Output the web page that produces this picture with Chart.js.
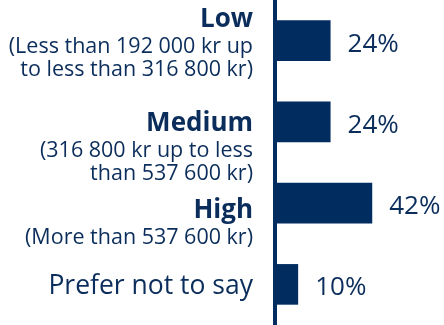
<!DOCTYPE html>
<html lang="en">
<head>
    <meta charset="UTF-8">
    <title>Income groups</title>
    <script src="https://cdn.jsdelivr.net/npm/chart.js"></script>
    <style>
        body { margin: 0; background: #fff; }
        .box { width: 444px; height: 325px; position: relative; }
    </style>
</head>
<body>
    <div class="box">
        <canvas id="grafico"></canvas>
    </div>
<script>
    // dados
    const categorias = ['Low', 'Medium', 'High', 'Prefer not to say'];
    const subtitulos = [
        ['(Less than 192 000 kr up', 'to less than 316 800 kr)'],
        ['(316 800 kr up to less', 'than 537 600 kr)'],
        ['(More than 537 600 kr)'],
        []
    ];
    const percentuais = [24, 24, 42, 10];

    const azul = '#002c5f';
    const corTexto = '#0b2d5b';
    const fonte = '"Open Sans", "Noto Sans", sans-serif';

    // deslocamento da primeira linha do rótulo em relação ao centro da barra
    const deslocTitulo = [-13.5, 9.5, 15, 10];

    const rotulos = {
        id: 'rotulos',
        afterDatasetsDraw(chart) {
            const ctx = chart.ctx;
            const escalaY = chart.scales.y;
            const meta = chart.getDatasetMeta(0);
            ctx.save();
            ctx.fillStyle = corTexto;
            ctx.textBaseline = 'alphabetic';

            for (let i = 0; i < categorias.length; i++) {
                const centro = escalaY.getPixelForValue(i);
                const subs = subtitulos[i];
                let y = centro + deslocTitulo[i];

                // nome da categoria
                ctx.textAlign = 'right';
                ctx.font = (subs.length ? 'bold 26px ' : '26.5px ') + fonte;
                ctx.fillText(categorias[i], 253, y);

                ctx.font = '21.5px ' + fonte;
                for (let j = 0; j < subs.length; j++) {
                    y += (j == 0) ? 26 : 23;
                    ctx.fillText(subs[j], 253, y);
                }

                // valor ao lado da barra
                const barra = meta.data[i];
                ctx.textAlign = 'left';
                ctx.font = '26px ' + fonte;
                ctx.fillText(percentuais[i] + '%', barra.x + 17, centro + 11);
            }
            ctx.restore();
        }
    };

    const config = {
        type: 'bar',
        data: {
            labels: categorias,
            datasets: [{
                data: percentuais,
                backgroundColor: azul,
                barPercentage: 0.5,
                categoryPercentage: 1
            }]
        },
        options: {
            indexAxis: 'y',
            responsive: true,
            maintainAspectRatio: false,
            animation: false,
            layout: { padding: { top: 0, right: 0, bottom: -3, left: 0 } },
            plugins: {
                legend: { display: false },
                tooltip: { enabled: false }
            },
            scales: {
                x: { display: false, min: 0, max: 73 },
                y: {
                    grid: { display: false },
                    ticks: { display: false },
                    border: { display: true, color: azul, width: 4 },
                    afterFit(escala) { escala.width = 275; }
                }
            }
        },
        plugins: [rotulos]
    };

    new Chart(document.getElementById('grafico'), config);
</script>
</body>
</html>
